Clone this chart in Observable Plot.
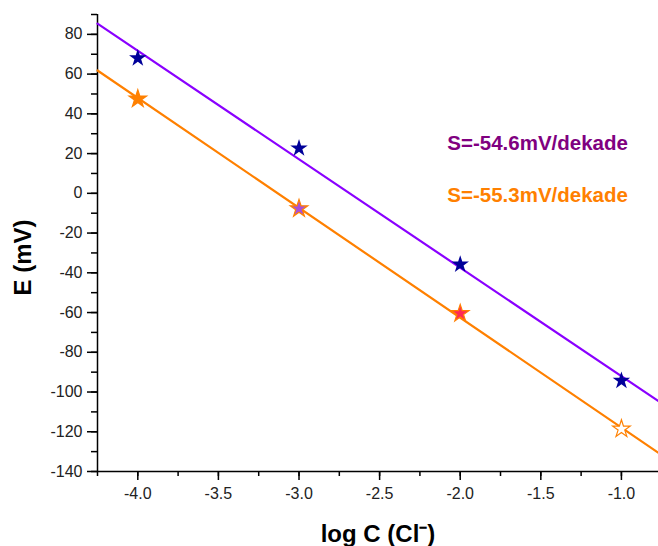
<!DOCTYPE html>
<html><head><meta charset="utf-8">
<script src="https://cdn.jsdelivr.net/npm/d3@7"></script>
<script src="https://cdn.jsdelivr.net/npm/@observablehq/plot@0.6"></script>
<style>body{margin:0;background:#fff} svg{display:block}</style>
</head><body><div id="chart"></div>
<script>
// data
const logC = [-4, -3, -2, -1];
const seriesA = [68, 22.7, -35.8, -94.3];     // blue stars (upper line)
const seriesB = [47.5, -7.7, -60.5, -118.6];  // orange stars (lower line)
const fitX = [-4.25, -0.77];
const fitA = [85.4, -104.6];                  // purple fit line
const fitB = [61.8, -130.6];                  // orange fit line
const slopeLabels = ["S=-54.6mV/dekade", "S=-55.3mV/dekade"];
const xTicks = [-4.0, -3.5, -3.0, -2.5, -2.0, -1.5, -1.0];
const yTicks = [-140, -120, -100, -80, -60, -40, -20, 0, 20, 40, 60, 80];
const xTitle = "log C (Cl⁻)";
const yTitle = "E (mV)";

const pts = logC.map((x, i) => ({x, a: seriesA[i], b: seriesB[i]}));
const lineA = fitX.map((x, i) => ({x, y: fitA[i]}));
const lineB = fitX.map((x, i) => ({x, y: fitB[i]}));
const xMinor = d3.range(-4.25, -0.76, 0.25);
const yMinor = d3.range(-140, 91, 10);
const font = "Arial, 'Liberation Sans', sans-serif";

const chart = Plot.plot({
  width: 658, height: 546,
  marginLeft: 97, marginRight: 0, marginTop: 14, marginBottom: 75,
  style: {fontFamily: font, fontSize: "16px", background: "#fff", color: "#222"},
  x: {domain: [-4.25, -0.77]},
  y: {domain: [-140, 90]},
  color: {type: "identity"},
  marks: [
    Plot.axisX(xMinor, {tickSize: 5, tickFormat: () => "", strokeWidth: 1.5, stroke: "#000", label: null}),
    Plot.axisX(xTicks, {tickSize: 9, tickPadding: 7, tickFormat: d => d.toFixed(1), strokeWidth: 1.5, stroke: "#000", fill: "#222", fontSize: 16, label: null}),
    Plot.axisY(yMinor, {tickSize: 6, tickFormat: () => "", strokeWidth: 1.5, stroke: "#000", label: null}),
    Plot.axisY(yTicks, {tickSize: 10, tickPadding: 5, tickFormat: d => String(d), strokeWidth: 1.5, stroke: "#000", fill: "#222", fontSize: 16, label: null}),
    Plot.ruleX([-4.25], {stroke: "#000", strokeWidth: 1.5}),
    Plot.ruleY([-140], {stroke: "#000", strokeWidth: 1.5}),
    Plot.line(lineA, {x: "x", y: "y", stroke: "#8a00ff", strokeWidth: 2.2}),
    Plot.line(lineB, {x: "x", y: "y", stroke: "#ff8000", strokeWidth: 2.2}),
    Plot.dot(pts, {x: "x", y: "a", symbol: "star", fill: "#000099", r: 5.5}),
    Plot.dot(pts, {x: "x", y: "b", symbol: "star", r: 5.5, stroke: "#ff8000", strokeWidth: 1.2,
      fill: (d, i) => ["#ff8000", "#a850d8", "#ff2a55", "#ffffff"][i]}),
    Plot.text([slopeLabels[0]], {x: -2.08, y: 25, textAnchor: "start", fill: "#800080", fontWeight: "bold", fontSize: 20.5}),
    Plot.text([slopeLabels[1]], {x: -2.08, y: -1, textAnchor: "start", fill: "#ff8000", fontWeight: "bold", fontSize: 20.5}),
    Plot.text([xTitle], {frameAnchor: "bottom", lineAnchor: "middle", dy: 63, fill: "#000", fontWeight: "bold", fontSize: 24}),
    Plot.text([yTitle], {frameAnchor: "left", textAnchor: "middle", lineAnchor: "middle", dx: -74, dy: 14.5, rotate: -90, fill: "#000", fontWeight: "bold", fontSize: 24})
  ]
});
document.getElementById("chart").append(chart);
</script></body></html>
